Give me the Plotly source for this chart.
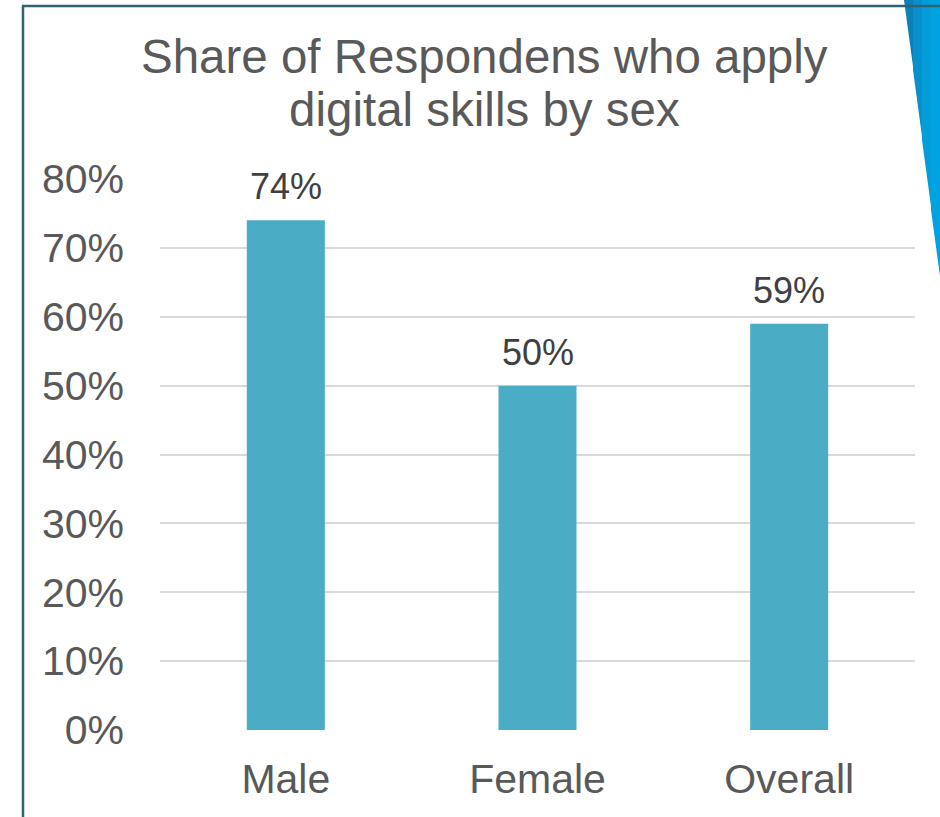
import plotly.graph_objects as go

# Chart data
categories = ["Male", "Female", "Overall"]
shares = [0.74, 0.50, 0.59]
y_ticks = [0, 0.1, 0.2, 0.3, 0.4, 0.5, 0.6, 0.7, 0.8]
title_lines = ["Share of Respondens who apply", "digital skills by sex"]

W, H = 940, 817
L, R, T, B = 160, 25, 179, 87
plot_h = H - T - B

BAR = "#4BACC6"
GRID = "#D9D9D9"
TICK_COLOR = "#595959"
LABEL_COLOR = "#404040"
FRAME = "#2E6374"
FONT = "Liberation Sans, Arial, sans-serif"

fig = go.Figure()
fig.add_trace(go.Bar(
    x=categories,
    y=shares,
    width=0.31,
    marker=dict(color=BAR, line=dict(width=0)),
    hoverinfo="skip",
))

# value labels just above each bar
annotations = []
for c, v in zip(categories, shares):
    annotations.append(dict(
        x=c, y=v, xref="x", yref="y",
        text=f"{round(v * 100)}%",
        showarrow=False, yanchor="bottom", yshift=11,
        font=dict(family=FONT, size=36, color=LABEL_COLOR),
    ))


def py(pix):
    """pixel row -> paper y"""
    return (H - B - pix) / plot_h


def px(pix):
    """pixel column -> paper x"""
    return (pix - L) / (W - L - R)


# two-line chart title
for i, line in enumerate(title_lines):
    annotations.append(dict(
        x=px(484), y=py(56 + i * 53), xref="paper", yref="paper",
        text=line, showarrow=False, xanchor="center", yanchor="middle",
        font=dict(family=FONT, size=47.5, color=TICK_COLOR),
    ))

shapes = []
# blue accent wedge at the right edge, shaded darker toward its left side
wedge_cols = ["#0A7FB8", "#0890CC", "#039DDA", "#00A3E2"]
n = len(wedge_cols)
x0, x1, yb = 904, 940, 280
for k, col in enumerate(wedge_cols):
    a = x0 + (x1 - x0) * k / n
    b = x0 + (x1 - x0) * (k + 1) / n
    # wedge left edge runs from (x0, 0) to (x1, yb)
    ya = yb * (a - x0) / (x1 - x0)
    yb2 = yb * (b - x0) / (x1 - x0)
    path = (f"M {px(a)},{py(0)} L {px(b + 0.5)},{py(0)} "
            f"L {px(b + 0.5)},{py(yb2)} L {px(a)},{py(ya)} Z")
    shapes.append(dict(type="path", xref="paper", yref="paper", path=path,
                       fillcolor=col, line=dict(width=0), layer="above"))

# frame lines (left and top)
shapes.append(dict(type="line", xref="paper", yref="paper",
                   x0=px(23), x1=px(23), y0=py(6), y1=py(H + 5),
                   line=dict(color=FRAME, width=2.5), layer="above"))
shapes.append(dict(type="line", xref="paper", yref="paper",
                   x0=px(22), x1=px(W + 5), y0=py(6), y1=py(6),
                   line=dict(color=FRAME, width=2.5), layer="above"))

fig.update_layout(
    width=W, height=H,
    margin=dict(l=L, r=R, t=T, b=B, pad=0),
    paper_bgcolor="white", plot_bgcolor="white",
    showlegend=False,
    bargap=0.69,
    font=dict(family=FONT, color=TICK_COLOR),
    xaxis=dict(
        showgrid=False, zeroline=False, showline=False,
        ticks="", tickfont=dict(size=41, color=TICK_COLOR),
        ticklabelstandoff=21,
    ),
    yaxis=dict(
        range=[0, 0.8], tickvals=y_ticks, tickformat=".0%",
        showgrid=True, gridcolor=GRID, gridwidth=2,
        zeroline=False, showline=False, ticks="",
        tickfont=dict(size=41, color=TICK_COLOR),
        ticklabelstandoff=35,
    ),
    annotations=annotations,
    shapes=shapes,
)

fig.write_html("out.html")
